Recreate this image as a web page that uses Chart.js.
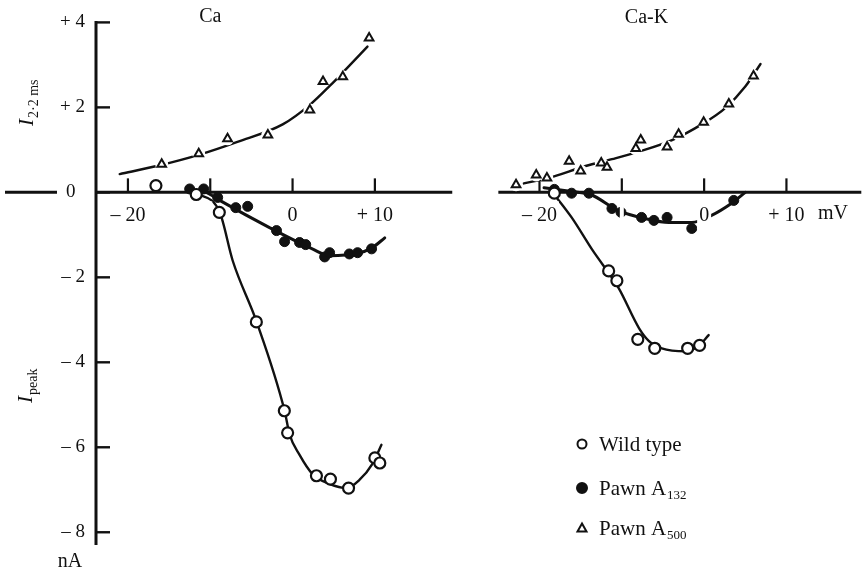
<!DOCTYPE html>
<html><head><meta charset="utf-8">
<script src="https://cdn.jsdelivr.net/npm/chart.js@4/dist/chart.umd.min.js"></script>
<style>html,body{margin:0;padding:0;background:#fff}canvas{display:block}</style>
</head><body>
<canvas id="c" width="866" height="571" style="width:866px;height:571px"></canvas>
<script>
// ---------- data (membrane potential in mV, current in nA) ----------
const panelTitles = ['Ca', 'Ca-K'];
const seriesNames = ['Wild type', 'Pawn A', 'Pawn A'];
const seriesSubs  = ['', '132', '500'];

// Ca panel – measured points
const caWildV = [-16.6, -11.7, -8.9, -4.4, -1.0, -0.6, 2.9, 4.6, 6.8, 10.0, 10.6];
const caWildI = [0.16, -0.05, -0.47, -3.05, -5.14, -5.66, -6.67, -6.75, -6.96, -6.25, -6.37];
const caA132V = [-12.5, -10.8, -9.1, -6.9, -5.45, -1.95, -0.97, 0.85, 1.6, 3.9, 4.5, 6.9, 7.9, 9.6];
const caA132I = [0.08, 0.08, -0.12, -0.36, -0.33, -0.90, -1.16, -1.18, -1.23, -1.52, -1.42, -1.45, -1.42, -1.33];
const caA500V = [-15.9, -11.4, -7.9, -3.0, 2.1, 3.7, 6.1, 9.3];
const caA500I = [0.66, 0.91, 1.26, 1.35, 1.94, 2.61, 2.72, 3.63];
// Ca panel – drawn curves
const caWildFitV = [-11.8, -8.85, -7.27, -4.36, -0.97, -0.36, 0.85, 2.42, 4.48, 6.55, 8.12, 9.7, 10.8];
const caWildFitI = [0.0, -0.47, -1.61, -3.05, -5.14, -5.70, -6.18, -6.63, -6.86, -6.96, -6.77, -6.39, -5.94];
const caA132FitV = [-12.85, -10.5, -8.85, -2.8, 2.4, 4.5, 7.8, 9.7, 11.2];
const caA132FitI = [0.08, 0.0, -0.19, -0.83, -1.33, -1.49, -1.44, -1.30, -1.07];
const caA500FitV = [-21.0, -16.5, -11.3, -6.7, -1.2, 2.1, 4.8, 6.5, 9.1];
const caA500FitI = [0.43, 0.62, 0.89, 1.19, 1.60, 2.06, 2.56, 2.90, 3.43];

// Ca-K panel – measured points
const ckWildV = [-18.2, -11.6, -10.6, -8.06, -6.0, -2.0, -0.55];
const ckWildI = [-0.02, -1.85, -2.08, -3.46, -3.67, -3.67, -3.60];
const ckA132V = [-18.2, -16.1, -14.0, -11.2, -10.1, -7.6, -6.1, -4.5, -1.5, 3.6];
const ckA132I = [0.07, -0.02, -0.02, -0.38, -0.47, -0.59, -0.66, -0.59, -0.85, -0.19];
const ckA500V = [-22.85, -20.4, -19.1, -16.4, -15.0, -12.5, -11.8, -8.3, -7.7, -4.5, -3.1, -0.06, 3.0, 6.0];
const ckA500I = [0.18, 0.41, 0.34, 0.73, 0.50, 0.69, 0.59, 1.03, 1.23, 1.07, 1.37, 1.65, 2.08, 2.74];
// Ca-K panel – drawn curves
const ckWildFitV = [-18.5, -16.1, -13.6, -10.4, -7.9, -6.7, -5.15, -2.25, -0.67, 0.55];
const ckWildFitI = [0.02, -0.59, -1.35, -2.25, -3.20, -3.50, -3.67, -3.74, -3.62, -3.36];
const ckA132FitV = [-19.45, -16.1, -13.8, -10.4, -7.1, -4.3, -1.5, 0.9, 3.3, 5.0];
const ckA132FitI = [0.11, 0.02, -0.05, -0.43, -0.62, -0.71, -0.71, -0.54, -0.26, 0.0];
const ckA500FitV = [-21.9, -18.85, -14.4, -11.2, -7.9, -3.9, -0.3, 2.6, 5.0, 6.85];
const ckA500FitI = [0.21, 0.34, 0.62, 0.78, 0.96, 1.23, 1.60, 1.99, 2.49, 3.02];

// axes
const xTickValues = [-20, -10, 0, 10];
const xTickLabels = ['\u2013 20', '', '0', '+ 10'];
const yTickValues = [4, 2, 0, -2, -4, -6, -8];
const yTickLabels = ['+ 4', '+ 2', '0\u2002', '\u2013 2', '\u2013 4', '\u2013 6', '\u2013 8'];
const xUnit = 'mV';
const yUnit = 'nA';

// ---------- layout ----------
const CAK_OFFSET = 50;          // the Ca-K panel sits 50 mV to the right on the shared x scale
const X_MIN = -23.88, X_MAX = 68.73;
const Y_MIN = -8.3, Y_MAX = 4;
const CA_AXIS_END = 19.4;       // end of the Ca zero line (mV)
const CAK_AXIS_START = -25.0;   // start of the Ca-K zero line (mV)
const SERIF = '"Liberation Serif", "DejaVu Serif", serif';
const INK = '#111';

const pts = (vs, is, off) => vs.map((v, i) => ({x: v + off, y: is[i]}));

function fit(vs, is, off, w) {
  return {data: pts(vs, is, off), showLine: true, pointRadius: 0, borderColor: INK,
          borderWidth: w, cubicInterpolationMode: 'monotone', order: 3, fill: false};
}
function halo(vs, is, off) {
  return {data: pts(vs, is, off), showLine: false, pointStyle: 'circle', pointRadius: 6.5,
          pointBorderWidth: 0, pointBackgroundColor: '#fff', pointBorderColor: '#fff', order: 2};
}
function marks(vs, is, off, kind) {
  const base = {data: pts(vs, is, off), showLine: false, order: 1, pointBorderColor: INK};
  if (kind === 'open') return Object.assign(base, {pointStyle: 'circle', pointRadius: 5.5, pointBorderWidth: 2.2, pointBackgroundColor: '#fff'});
  if (kind === 'filled') return Object.assign(base, {pointStyle: 'circle', pointRadius: 5, pointBorderWidth: 1, pointBackgroundColor: INK});
  return Object.assign(base, {pointStyle: 'triangle', pointRadius: 5, pointBorderWidth: 2, pointBackgroundColor: '#fff'});
}

const datasets = [
  fit(caWildFitV, caWildFitI, 0, 2.4),
  fit(caA132FitV, caA132FitI, 0, 3),
  fit(caA500FitV, caA500FitI, 0, 2.4),
  fit(ckWildFitV, ckWildFitI, CAK_OFFSET, 2.4),
  fit(ckA132FitV, ckA132FitI, CAK_OFFSET, 3),
  fit(ckA500FitV, ckA500FitI, CAK_OFFSET, 2.4),
  halo(caA500V, caA500I, 0),
  halo(ckA500V, ckA500I, CAK_OFFSET),
  marks(caWildV, caWildI, 0, 'open'),
  marks(caA132V, caA132I, 0, 'filled'),
  marks(caA500V, caA500I, 0, 'tri'),
  marks(ckWildV, ckWildI, CAK_OFFSET, 'open'),
  marks(ckA132V, ckA132I, CAK_OFFSET, 'filled'),
  marks(ckA500V, ckA500I, CAK_OFFSET, 'tri')
];

const allXTicks = xTickValues.concat(xTickValues.map(v => v + CAK_OFFSET));
const allXLabels = xTickLabels.concat(xTickLabels);

function seg(ctx, x1, y1, x2, y2) { ctx.beginPath(); ctx.moveTo(x1, y1); ctx.lineTo(x2, y2); ctx.stroke(); }

function subText(ctx, x, y, main, sub, mainFont, subFont, drop) {
  ctx.font = mainFont; ctx.fillText(main, x, y);
  const w = ctx.measureText(main).width;
  if (sub) { ctx.font = subFont; ctx.fillText(sub, x + w + 1, y + drop); }
}

const deco = {
  id: 'deco',
  beforeDatasetsDraw(chart) {
    const {ctx, chartArea, scales: {x, y}} = chart;
    const y0 = y.getPixelForValue(0);
    const ax = chartArea.left;
    ctx.save();
    ctx.strokeStyle = INK; ctx.lineCap = 'butt';
    // vertical axis
    ctx.lineWidth = 3;
    seg(ctx, ax, y.getPixelForValue(Y_MAX) - 1.5, ax, y.getPixelForValue(Y_MIN));
    ctx.lineWidth = 2.4;
    yTickValues.forEach(v => { const p = y.getPixelForValue(v); seg(ctx, ax, p, ax + 14, p); });
    // zero lines
    ctx.lineWidth = 3;
    seg(ctx, 5, y0, 57, y0);
    seg(ctx, ax, y0, x.getPixelForValue(CA_AXIS_END), y0);
    seg(ctx, x.getPixelForValue(CAK_AXIS_START + CAK_OFFSET), y0, chartArea.right + 3, y0);
    // upward tick marks
    ctx.lineWidth = 2.2;
    allXTicks.forEach(v => { const p = x.getPixelForValue(v); seg(ctx, p, y0, p, y0 - 14); });
    ctx.restore();
  },
  afterDraw(chart) {
    const {ctx, scales: {x, y}} = chart;
    const y0 = y.getPixelForValue(0);
    ctx.save();
    ctx.fillStyle = INK;
    // panel titles
    ctx.font = '20px ' + SERIF; ctx.textAlign = 'center'; ctx.textBaseline = 'middle';
    ctx.fillText(panelTitles[0], x.getPixelForValue(-10), 17);
    ctx.fillText(panelTitles[1], x.getPixelForValue(-7 + CAK_OFFSET), 18);
    // units
    ctx.font = '20px ' + SERIF;
    ctx.textAlign = 'left';
    ctx.fillText(xUnit, 818, y0 + 21);
    ctx.textAlign = 'center';
    ctx.fillText(yUnit, 70, 562);
    // y titles (rotated)
    ctx.textAlign = 'left'; ctx.textBaseline = 'alphabetic';
    ctx.save(); ctx.translate(33, 126); ctx.rotate(-Math.PI / 2);
    subText(ctx, 0, 0, 'I', '2\u00B72 ms', 'italic 21px ' + SERIF, '14px ' + SERIF, 5);
    ctx.restore();
    ctx.save(); ctx.translate(32, 403); ctx.rotate(-Math.PI / 2);
    subText(ctx, 0, 0, 'I', 'peak', 'italic 21px ' + SERIF, '14px ' + SERIF, 5);
    ctx.restore();
    // legend
    const rows = [444, 488, 528];
    const kinds = ['open', 'filled', 'tri'];
    rows.forEach((ry, i) => {
      const sx = 582;
      ctx.strokeStyle = INK; ctx.lineWidth = 2;
      ctx.beginPath();
      if (kinds[i] === 'tri') {
        ctx.moveTo(sx, ry - 4.5); ctx.lineTo(sx + 4.5, ry + 3.5); ctx.lineTo(sx - 4.5, ry + 3.5); ctx.closePath();
        ctx.fillStyle = '#fff'; ctx.fill(); ctx.stroke();
      } else {
        ctx.arc(sx, ry, kinds[i] === 'open' ? 4.5 : 5, 0, Math.PI * 2);
        ctx.fillStyle = kinds[i] === 'open' ? '#fff' : INK; ctx.fill(); ctx.stroke();
      }
      ctx.fillStyle = INK; ctx.textBaseline = 'alphabetic';
      subText(ctx, 599, ry + 7, seriesNames[i], seriesSubs[i], '21px ' + SERIF, '13px ' + SERIF, 4);
    });
    ctx.restore();
  }
};

new Chart(document.getElementById('c'), {
  type: 'scatter',
  data: {datasets},
  plugins: [deco],
  options: {
    responsive: false, animation: false, devicePixelRatio: 1,
    layout: {padding: {left: 0, right: 6, top: 19, bottom: 26}},
    plugins: {legend: {display: false}, tooltip: {enabled: false}},
    elements: {line: {borderCapStyle: 'round'}},
    scales: {
      x: {
        type: 'linear', min: X_MIN, max: X_MAX, position: {y: 0},
        grid: {display: false, drawTicks: false}, border: {display: false},
        afterBuildTicks: s => { s.ticks = allXTicks.map(v => ({value: v})); },
        ticks: {
          autoSkip: false, maxRotation: 0, padding: 11, color: INK, z: 1,
          font: {family: SERIF, size: 20},
          showLabelBackdrop: true, backdropColor: '#fff', backdropPadding: 2,
          callback: (v) => { const i = allXTicks.indexOf(v); return i >= 0 ? allXLabels[i] : ''; }
        }
      },
      y: {
        type: 'linear', min: Y_MIN, max: Y_MAX, position: 'left',
        afterFit: s => { s.width = 96; },
        grid: {display: false, drawTicks: false}, border: {display: false},
        afterBuildTicks: s => { s.ticks = yTickValues.map(v => ({value: v})); },
        ticks: {
          padding: 11, color: INK, font: {family: SERIF, size: 19},
          callback: (v) => { const i = yTickValues.indexOf(v); return i >= 0 ? yTickLabels[i] : ''; }
        }
      }
    }
  }
});
</script></body></html>
